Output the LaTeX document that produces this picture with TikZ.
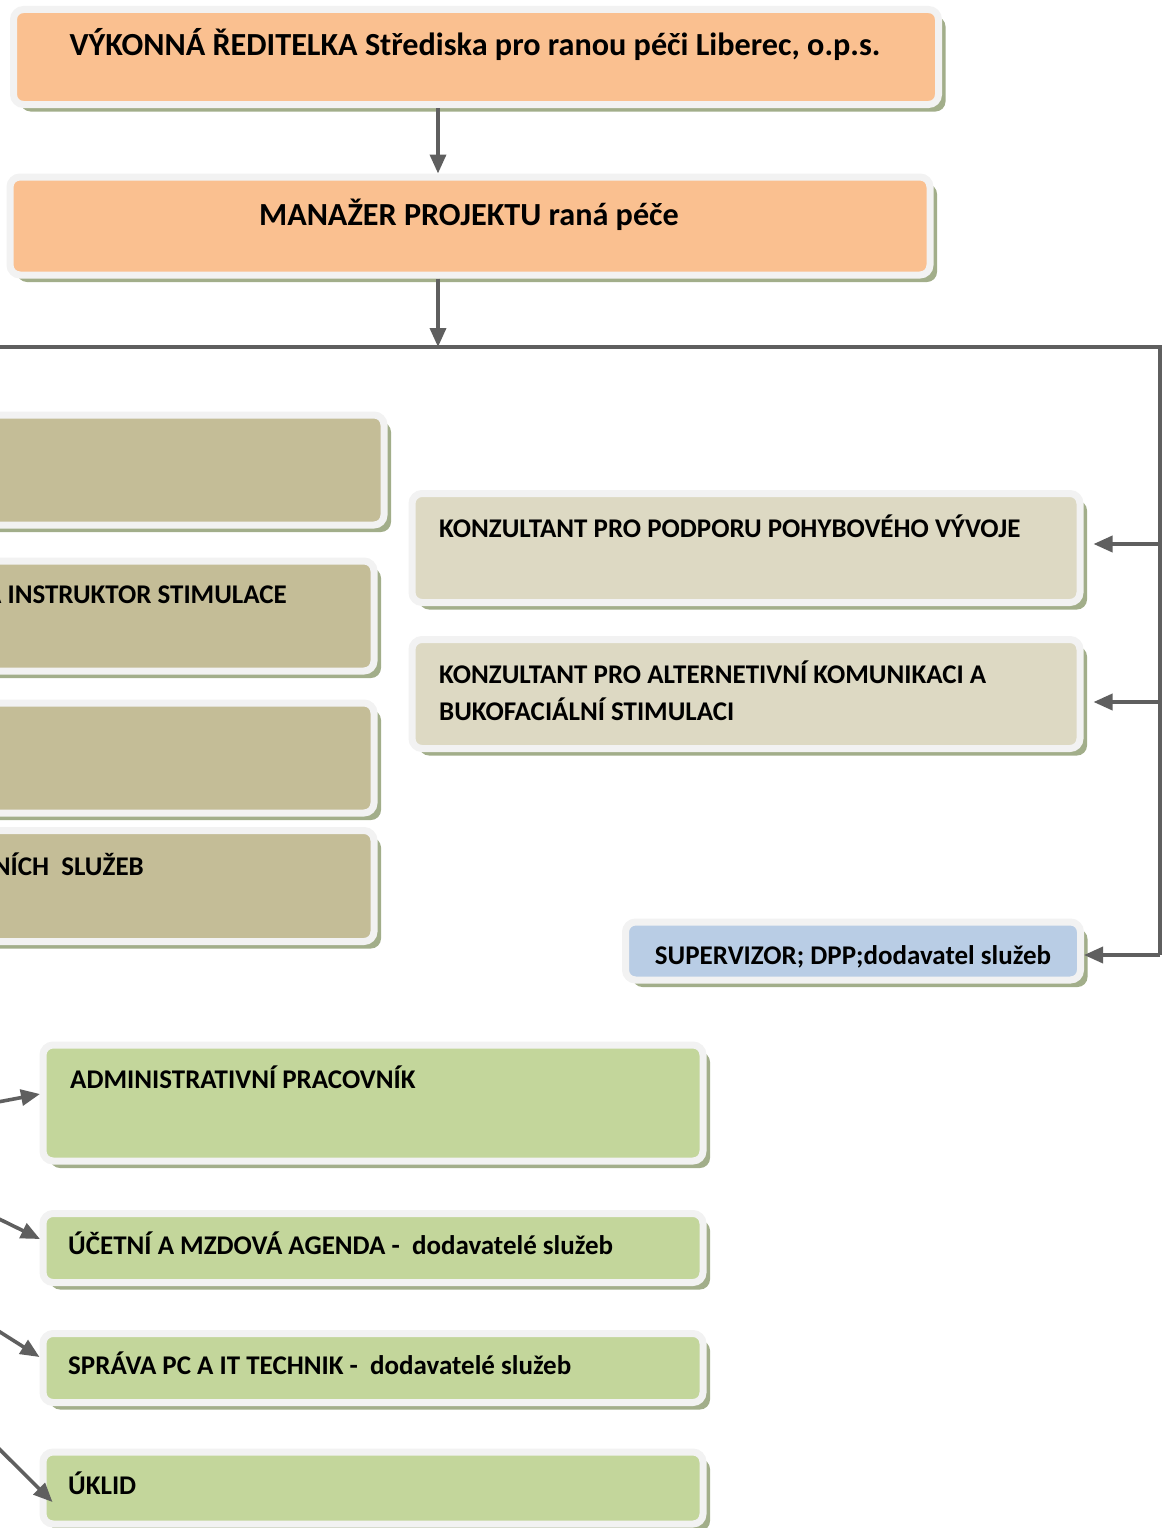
\documentclass[tikz,border=0pt]{standalone}
\usepackage{fontspec}
\setmainfont{Carlito}
\usetikzlibrary{positioning,shadows,arrows.meta,calc}

\definecolor{peach}{HTML}{FAC090}
\definecolor{darktan}{HTML}{C4BD97}
\definecolor{lighttan}{HTML}{DDD9C3}
\definecolor{paleblue}{HTML}{B9CDE5}
\definecolor{palegreen}{HTML}{C3D69B}
\definecolor{framegray}{HTML}{F2F2F2}
\definecolor{shadowgreen}{HTML}{A2AE8A}
\definecolor{linegray}{HTML}{5F5F5F}

\tikzset{
  box/.style={draw=framegray, line width=7pt, rounded corners=10pt, inner sep=0pt,
    drop shadow={shadow xshift=7pt, shadow yshift=-7pt, fill=shadowgreen, opacity=1}},
  txt/.style={inner sep=0pt, font=\fontsize{27}{37}\selectfont\bfseries, align=left},
  headtxt/.style={txt, font=\fontsize{32.2}{37}\selectfont\bfseries},
  bus/.style={draw=linegray, line width=3.6pt},
  arr/.style={bus, -{Triangle[length=19pt,width=16pt]}}
}

\begin{document}
\begin{tikzpicture}[x=1pt,y=-1pt]
  \path[use as bounding box] (0,0) rectangle (1170,1528);
  \clip (0,0) rectangle (1170,1528);

  % management
  \node[box, fill=peach, minimum width=925pt, minimum height=95pt] (T) at (476,57) {};
  \node[box, fill=peach, minimum width=920pt, minimum height=98pt] (M) at (470,226) {};
  \node[headtxt, anchor=base] (Tt) at (475,56) {VÝKONNÁ ŘEDITELKA Střediska pro ranou péči Liberec, o.p.s.};
  \node[headtxt, anchor=base] (Mt) at (469,225) {MANAŽER PROJEKTU raná péče};

  % left column
  \node[box, fill=darktan, minimum width=684pt, minimum height=110pt] (L1) at (42,470) {};
  \node[box, fill=darktan, minimum width=674pt, minimum height=110pt] (L2) at (37,616) {};
  \node[box, fill=darktan, minimum width=674pt, minimum height=110pt] (L3) at (37,758) {};
  \node[box, fill=darktan, minimum width=674pt, minimum height=111pt] (L4) at (37,886) {};
  \node[txt, anchor=base east] (L2t) at (287,603) {A INSTRUKTOR STIMULACE};
  \node[txt, anchor=base east] (L4t) at (144,875) {NÍCH\ \ SLUŽEB};

  % right column
  \node[box, fill=lighttan, minimum width=668pt, minimum height=109pt] (K1) at (746,548) {};
  \node[box, fill=lighttan, minimum width=668pt, minimum height=109pt] (K2) at (746,694) {};
  \node[box, fill=paleblue, minimum width=455pt, minimum height=58pt] (S) at (853,951) {};
  \node[txt, anchor=base west] (K1t) at (439,537) {KONZULTANT PRO PODPORU POHYBOVÉHO VÝVOJE};
  \node[txt, anchor=base west] (K2t) at (439,720) {KONZULTANT PRO ALTERNETIVNÍ KOMUNIKACI A\\BUKOFACIÁLNÍ STIMULACI};
  \node[txt, anchor=base] (St) at (853,964) {SUPERVIZOR; DPP;dodavatel služeb};

  % services
  \node[box, fill=palegreen, minimum width=660pt, minimum height=116pt] (G1) at (373,1103) {};
  \node[box, fill=palegreen, minimum width=660pt, minimum height=69pt] (G2) at (373,1248) {};
  \node[box, fill=palegreen, minimum width=660pt, minimum height=69pt] (G3) at (373,1368) {};
  \node[box, fill=palegreen, minimum width=660pt, minimum height=72pt] (G4) at (373,1488) {};
  \node[txt, anchor=base west] (G1t) at (70,1088) {ADMINISTRATIVNÍ PRACOVNÍK};
  \node[txt, anchor=base west] (G2t) at (68,1254) {ÚČETNÍ A MZDOVÁ AGENDA -\ \ dodavatelé služeb};
  \node[txt, anchor=base west] (G3t) at (68,1374) {SPRÁVA PC A IT TECHNIK -\ \ dodavatelé služeb};
  \node[txt, anchor=base west] (G4t) at (68,1494) {ÚKLID};

  % connectors
  \coordinate (stem) at (438,0);
  \coordinate (busL) at (-20,347);
  \coordinate (busR) at (1160,347);
  \coordinate (r1) at (1160,544);
  \coordinate (r2) at (1160,702);
  \coordinate (r3) at (1160,955);
  \draw[arr] (T.south -| stem) -- (M.north -| stem);
  \draw[arr] (M.south -| stem) -- (stem |- busL);
  \draw[bus] (busL) -- (busR) -- (r3);
  \draw[arr, shorten >=10pt] (r1) -- (r1 -| K1.east);
  \draw[arr, shorten >=10pt] (r2) -- (r2 -| K2.east);
  \draw[arr] (r3) -- (r3 -| S.east);

  \coordinate (a1) at (-60,1113);
  \coordinate (a2) at (-60,1190);
  \coordinate (a3) at (-60,1294);
  \coordinate (a4) at (-60,1390);
  \draw[arr] (a1) -- ($(G1.west)+(0.5,-9)$);
  \draw[arr] (a2) -- ($(G2.west)+(0.5,-9)$);
  \draw[arr] (a3) -- ($(G3.west)+(0,-11)$);
  \draw[arr] (a4) -- ($(G4.west)+(13,14)$);
\end{tikzpicture}
\end{document}
